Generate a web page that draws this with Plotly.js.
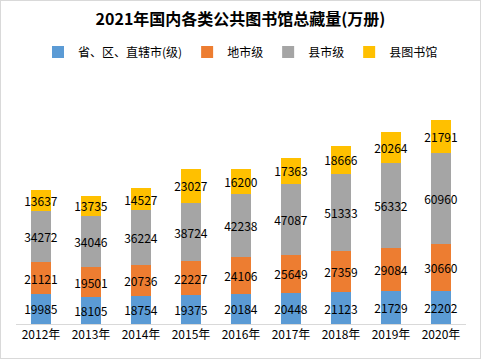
<!DOCTYPE html>
<html><head><meta charset="utf-8">
<script src="https://cdn.plot.ly/plotly-3.0.1.min.js"></script>
<style>
html,body{margin:0;padding:0;background:#fff;}
#wrap{position:relative;width:481px;height:359px;}
#chart{position:absolute;left:0;top:0;width:481px;height:359px;}
#border{position:absolute;left:0;top:0;width:481px;height:359px;box-sizing:border-box;border:1px solid #D9D9D9;pointer-events:none;}
</style></head>
<body><div id="wrap"><div id="chart"></div><div id="border"></div></div>
<script>
const years = ["2012年","2013年","2014年","2015年","2016年","2017年","2018年","2019年","2020年"];
const seriesNames = ["省、区、直辖市(级)","地市级","县市级","县图书馆"];
const provincial = [19985,18105,18754,19375,20184,20448,21123,21729,22202];
const prefecture = [21121,19501,20736,22227,24106,25649,27359,29084,30660];
const countyCity = [34272,34046,36224,38724,42238,47087,51333,56332,60960];
const countyLib  = [13637,13735,14527,23027,16200,17363,18666,20264,21791];
const colors = ["#5B9BD5","#ED7D31","#A5A5A5","#FFC000"];

const font = '"Noto Sans CJK SC", "Noto Sans", sans-serif';
const allSeries = [provincial, prefecture, countyCity, countyLib];
const traces = allSeries.map((vals,i)=>({
  type:'bar', x: years, y: vals, name: seriesNames[i],
  marker:{color: colors[i], line:{width:0}},
  text: vals.map(String), textposition:'inside', insidetextanchor:'middle',
  textangle:0, constraintext:'none',
  textfont:{color:'#000', size:12, family:font},
  hoverinfo:'skip'
}));

const layout = {
  width:481, height:359,
  margin:{l:16, r:15, t:100, b:35},
  barmode:'stack', bargap:0.6,
  paper_bgcolor:'#fff', plot_bgcolor:'#fff',
  font:{family:font, color:'#000', size:12},
  title:{text:'<b>2021年国内各类公共图书馆总藏量(万册)</b>', font:{size:16, family:font, color:'#000'},
         x:0.5, xanchor:'center', y:1-19/359, yanchor:'middle'},
  legend:{orientation:'h', x:0.5, xanchor:'center', xref:'container', yref:'container', y:1-52/359, yanchor:'middle',
          font:{size:12, family:font, color:'#000'}, itemwidth:30, traceorder:'normal'},
  xaxis:{showline:true, linecolor:'#D9D9D9', linewidth:1, ticks:'', tickfont:{size:12, family:font, color:'#000'},
         showgrid:false, zeroline:false},
  yaxis:{visible:false, range:[0,148906], showgrid:false, zeroline:false}
};
Plotly.newPlot('chart', traces, layout, {displayModeBar:false, staticPlot:true});
</script></body></html>
